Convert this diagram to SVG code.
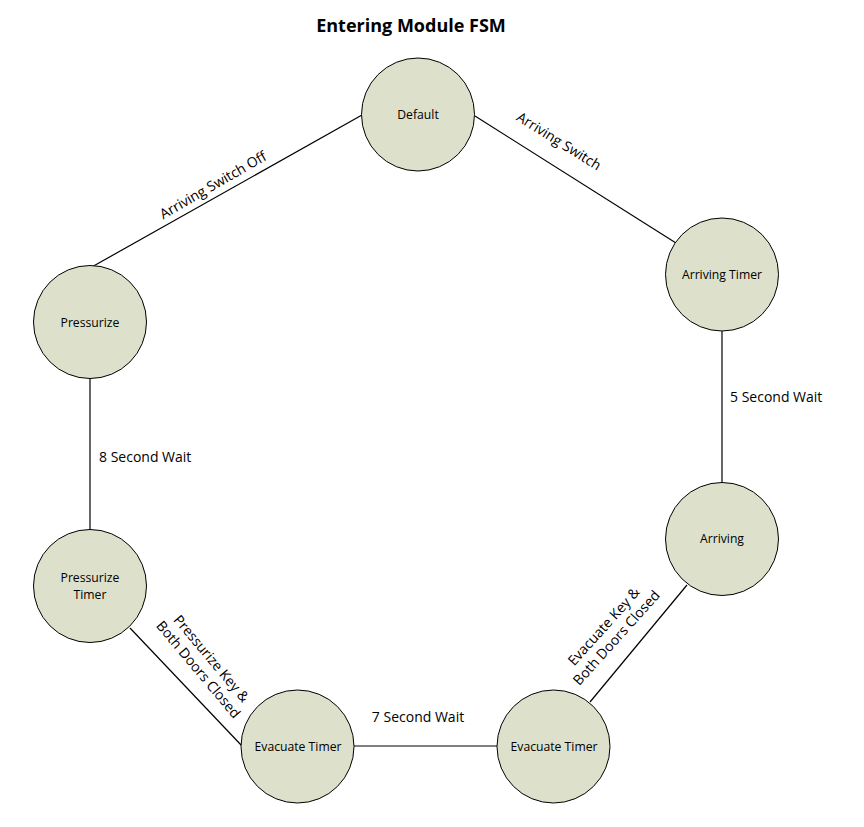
<svg xmlns="http://www.w3.org/2000/svg" width="864" height="827" viewBox="0 0 864 827">
<style>
.node circle{fill:#dde0cb;stroke:#000;stroke-width:1}
.nl{font-family:"Open Sans","Liberation Sans",sans-serif;font-size:12.2px;fill:#000;text-anchor:middle}
.el{font-family:"Open Sans","Liberation Sans",sans-serif;font-size:14px;fill:#000}
.edges line{stroke:#000;stroke-width:1.2}
.title{font-family:"Open Sans","Liberation Sans",sans-serif;font-size:18px;font-weight:700;text-anchor:middle}
</style>
<rect width="864" height="827" fill="#fff"/>
<text class="title" x="411" y="32">Entering Module FSM</text>
<g id="connectors" class="edges">
<line x1="362" y1="115" x2="90" y2="268"/>
<line x1="475" y1="116" x2="676" y2="243"/>
<line x1="722" y1="331" x2="722" y2="483"/>
<line x1="687" y1="585" x2="590" y2="702"/>
<line x1="354" y1="746" x2="497" y2="746"/>
<line x1="130" y1="628" x2="242" y2="746"/>
<line x1="90" y1="378" x2="90" y2="530"/>
</g>
<g id="edge-labels">
<text class="el" text-anchor="middle" transform="translate(213,185) rotate(-30)" y="5">Arriving Switch Off</text>
<text class="el" text-anchor="middle" transform="translate(559,141) rotate(32)" y="5">Arriving Switch</text>
<text class="el" x="730" y="402">5 Second Wait</text>
<text class="el" x="99" y="462">8 Second Wait</text>
<text class="el" text-anchor="middle" x="418" y="722">7 Second Wait</text>
<g transform="translate(205,664) rotate(50)">
<text class="el" text-anchor="middle" y="-3.5">Pressurize Key &amp;</text>
<text class="el" text-anchor="middle" y="13.5">Both Doors Closed</text>
</g>
<g transform="translate(610,632) rotate(-48)">
<text class="el" text-anchor="middle" y="-3.5">Evacuate Key &amp;</text>
<text class="el" text-anchor="middle" y="13.5">Both Doors Closed</text>
</g>
</g>
<g id="default" class="node"><circle cx="418" cy="114.5" r="56.5"/><text class="nl" x="418" y="118.5">Default</text></g>
<g id="arriving-timer" class="node"><circle cx="722" cy="274.5" r="56.5"/><text class="nl" x="722" y="279">Arriving Timer</text></g>
<g id="arriving" class="node"><circle cx="722" cy="539" r="56.5"/><text class="nl" x="722" y="543">Arriving</text></g>
<g id="evacuate-timer-right" class="node"><circle cx="553.5" cy="746.5" r="56.5"/><text class="nl" x="554" y="751">Evacuate Timer</text></g>
<g id="evacuate-timer-left" class="node"><circle cx="297.5" cy="746.5" r="56.5"/><text class="nl" x="298" y="751">Evacuate Timer</text></g>
<g id="pressurize-timer" class="node"><circle cx="90" cy="586" r="56.5"/><text class="nl" x="90" y="582">Pressurize</text><text class="nl" x="90" y="599">Timer</text></g>
<g id="pressurize" class="node"><circle cx="90" cy="322" r="56.5"/><text class="nl" x="90" y="326.5">Pressurize</text></g>
</svg>
